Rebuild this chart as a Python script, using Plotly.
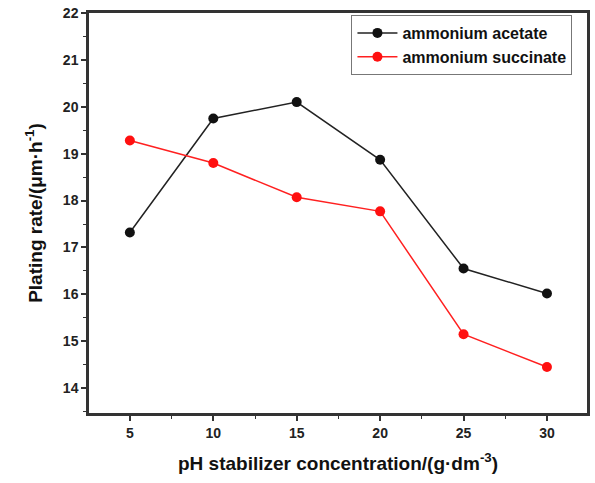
import plotly.graph_objects as go

conc = [5, 10, 15, 20, 25, 30]
acetate = [17.32, 19.75, 20.1, 18.87, 16.55, 16.02]
succinate = [19.28, 18.8, 18.07, 17.77, 15.15, 14.45]
yticks = [14, 15, 16, 17, 18, 19, 20, 21, 22]
xticks = [5, 10, 15, 20, 25, 30]

fig = go.Figure()
fig.add_trace(go.Scatter(x=conc, y=acetate, mode="lines+markers", name="ammonium acetate",
                         line=dict(color="#222222", width=1.5),
                         marker=dict(color="#111111", size=10, symbol="circle")))
fig.add_trace(go.Scatter(x=conc, y=succinate, mode="lines+markers", name="ammonium succinate",
                         line=dict(color="#ff2020", width=1.5),
                         marker=dict(color="#ff1010", size=10, symbol="circle")))

tfont = dict(family="Liberation Sans", size=14, color="#222222", weight="bold")
axis_common = dict(showline=True, linecolor="#333333", linewidth=2.5, mirror=True,
                   ticks="outside", ticklen=5, tickwidth=1.5, tickcolor="#333333",
                   showgrid=False, zeroline=False, tickfont=tfont,
                   minor=dict(ticks="outside", ticklen=3, tickcolor="#333333", tickwidth=1.2))

fig.update_layout(
    width=595, height=483,
    margin=dict(l=89, r=5, t=10, b=70),
    plot_bgcolor="white", paper_bgcolor="white",
    showlegend=True,
    legend=dict(x=0.527, y=0.995, xanchor="left", yanchor="top",
                bordercolor="#777777", borderwidth=1, bgcolor="white",
                font=dict(family="Liberation Sans", size=16, color="#111111", weight="bold"),
                tracegroupgap=0, itemwidth=40),
    xaxis=dict(range=[2.55, 32.4], tickvals=xticks,
               title=dict(text="pH stabilizer concentration/(g·dm<sup>-3</sup>)",
                          font=dict(family="Liberation Sans", size=19, color="#111111", weight="bold"),
                          standoff=18),
               **axis_common),
    yaxis=dict(range=[13.47, 22], tickvals=yticks,
               title=dict(text="Plating rate/(μm·h<sup>-1</sup>)",
                          font=dict(family="Liberation Sans", size=19, color="#111111", weight="bold"),
                          standoff=16),
               **axis_common),
)
fig.update_xaxes(minor_dtick=2.5)
fig.update_yaxes(minor_dtick=0.5)

fig.write_html("out.html", config={"displayModeBar": False},
               post_script="document.body.style.margin='0';")
